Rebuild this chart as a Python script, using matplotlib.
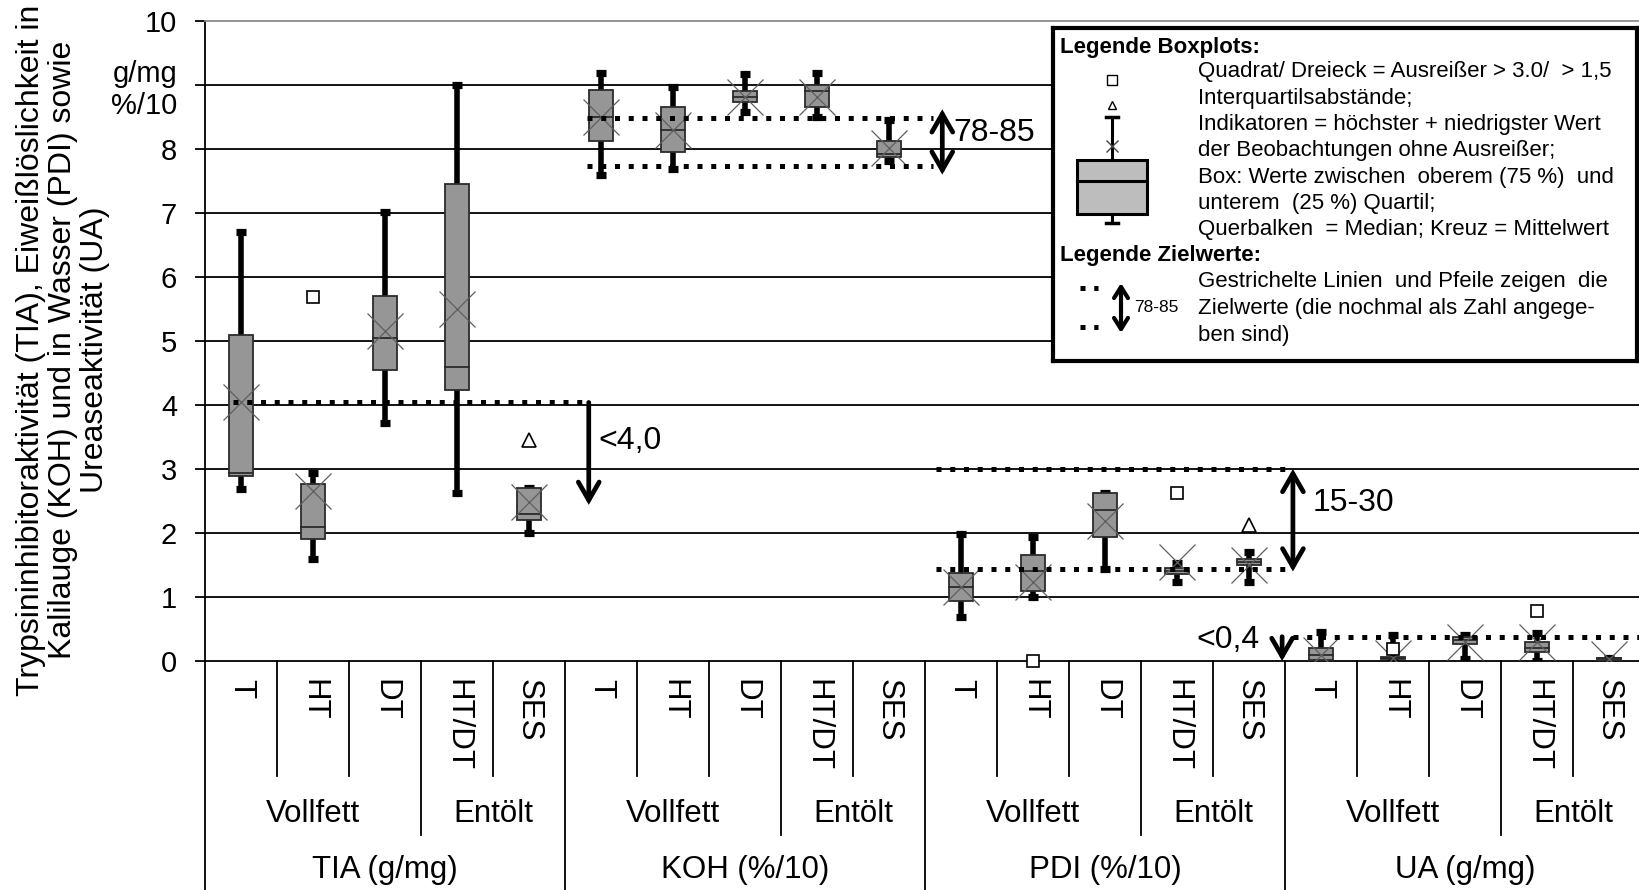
import numpy as np
import matplotlib
matplotlib.use("Agg")
import matplotlib.pyplot as plt
from matplotlib.patches import Rectangle, FancyArrowPatch
from matplotlib.lines import Line2D
from matplotlib import transforms

plt.rcParams['font.family'] = ['Liberation Sans', 'DejaVu Sans']

# Data
groups = ["TIA (g/mg)", "KOH (%/10)", "PDI (%/10)", "UA (g/mg)"]
subgroups = ["Vollfett", "Entölt"]
categories = ["T", "HT", "DT", "HT/DT", "SES"]
n_voll = 3

#           TIA                          KOH                           PDI                          UA
whis_lo = [2.68, 1.60, 3.72, 2.62, 2.00, 7.59, 7.68, 8.58, 8.50, 7.81, 0.68, 1.00, 1.43, 1.24, 1.24, 0.00, 0.02, 0.03, 0.00, 0.02]
q1      = [2.89, 1.90, 4.55, 4.23, 2.20, 8.13, 7.96, 8.73, 8.66, 7.88, 0.93, 1.10, 1.93, 1.36, 1.50, 0.01, 0.03, 0.27, 0.14, 0.02]
median  = [2.93, 2.09, 5.05, 4.60, 2.29, 8.50, 8.30, 8.81, 8.90, 7.92, 1.15, 1.40, 2.36, 1.40, 1.55, 0.09, 0.05, 0.33, 0.20, 0.04]
q3      = [5.10, 2.77, 5.70, 7.45, 2.71, 8.92, 8.66, 8.91, 9.00, 8.13, 1.37, 1.66, 2.62, 1.45, 1.60, 0.20, 0.07, 0.38, 0.29, 0.05]
whis_hi = [6.70, 2.93, 7.02, 9.00, 2.71, 9.18, 8.97, 9.17, 9.18, 8.45, 1.98, 1.93, 2.62, 1.53, 1.71, 0.45, 0.40, 0.40, 0.43, 0.05]
mean    = [4.05, 2.65, 5.15, 5.50, 2.49, 8.50, 8.30, 8.82, 8.82, 8.02, 1.16, 1.24, 2.19, 1.55, 1.50, 0.10, 0.05, 0.29, 0.29, 0.03]

# outliers: squares (> 3.0 IQR), triangles (> 1.5 IQR)
sq_idx = [1, 11, 13, 16, 18]
sq_val = [5.69, 0.00, 2.63, 0.18, 0.78]
tri_idx = [4, 14]
tri_val = [3.46, 2.12]

# target values (dotted lines) and arrows
target_y = [4.04, 8.49, 7.73, 3.00, 1.43, 0.38]
target_x0 = [0.39, 5.31, 5.31, 10.15, 10.15, 15.11]
target_x1 = [5.25, 10.11, 10.11, 15.03, 15.03, 19.95]
arrow_x = [5.33, 10.24, 15.11, 14.96]
arrow_from = [4.04, 8.62, 3.00, 0.38]
arrow_to = [2.44, 7.60, 1.40, 0.00]
arrow_both = [False, True, True, False]
target_labels = ["<4,0", "78-85", "15-30", "<0,4"]
label_x = [5.46, 10.39, 15.39, 14.65]
label_y = [3.44, 8.25, 2.47, 0.33]
label_ha = ["left", "left", "left", "right"]

ytick_vals = list(range(11))
ytick_labels = ["0", "1", "2", "3", "4", "5", "6", "7", "8", "g/mg\n%/10", "10"]

W, H = 1640, 890
fig = plt.figure(figsize=(W / 100, H / 100), dpi=100)
x_left, x_right, y_top, y_zero = 205, 1640, 21, 661
ax = fig.add_axes([x_left / W, (H - y_zero) / H, (x_right - x_left) / W, (y_zero - y_top) / H])
n_cat = len(groups) * len(categories)
ax.set_xlim(0, (x_right - x_left) / 72.0)
ax.set_ylim(0, 10)

ax.spines["right"].set_visible(False)
ax.spines["top"].set_color("#8c8c8c")
ax.spines["top"].set_linewidth(1.3)
ax.spines["left"].set_linewidth(1.3)
ax.spines["bottom"].set_linewidth(1.3)
ax.set_xticks([])
ax.set_yticks(ytick_vals)
ax.set_yticklabels(ytick_labels, linespacing=1.2)
ax.tick_params(axis="y", length=7, width=1.3, pad=13, labelsize=21)
for v in ytick_vals[1:-1]:
    ax.axhline(v, color="black", lw=1.3, zorder=1)

pos = np.arange(n_cat) + 0.5
half = 0.167
cap = 0.075
for i in range(n_cat):
    x = pos[i]
    ax.plot([x, x], [whis_lo[i], q1[i]], color="black", lw=4.0, solid_capstyle="butt", zorder=3)
    ax.plot([x, x], [q3[i], whis_hi[i]], color="black", lw=4.0, solid_capstyle="butt", zorder=3)
    ax.plot([x - cap, x + cap], [whis_hi[i], whis_hi[i]], color="black", lw=5.2, solid_capstyle="butt", zorder=3)
    ax.plot([x - cap, x + cap], [whis_lo[i], whis_lo[i]], color="black", lw=5.2, solid_capstyle="butt", zorder=3)
    ax.add_patch(Rectangle((x - half, q1[i]), 2 * half, q3[i] - q1[i], facecolor="#969696",
                           edgecolor="#2b2b2b", lw=1.3, zorder=4))
    ax.plot([x - half, x + half], [median[i], median[i]], color="#2b2b2b", lw=1.3, zorder=5)

ax.plot(pos, mean, linestyle="none", marker="x", markersize=26, mew=0.9, color="#5f5f5f", zorder=6)
ax.plot(pos[sq_idx], sq_val, linestyle="none", marker="s", markersize=9, mfc="white", mec="black",
        mew=1.2, zorder=7, clip_on=False)
ax.plot(pos[tri_idx], tri_val, linestyle="none", marker="^", markersize=10, mfc="white", mec="black",
        mew=1.2, zorder=7, clip_on=False)

for yv, a, b in zip(target_y, target_x0, target_x1):
    ax.plot([a, b], [yv, yv], color="black", lw=3.6, linestyle=(0, (1, 1.75)),
            dash_capstyle="butt", zorder=8, clip_on=False)

for xa, y0, y1, both in zip(arrow_x, arrow_from, arrow_to, arrow_both):
    style = "<->" if both else "->"
    arr = FancyArrowPatch((xa, y0), (xa, y1), arrowstyle=style + ",head_length=13,head_width=7.5",
                          mutation_scale=1, lw=3.4, color="black", shrinkA=0, shrinkB=0,
                          zorder=8, clip_on=False, joinstyle="miter")
    ax.add_patch(arr)
for t, tx, ty, ha in zip(target_labels, label_x, label_y, label_ha):
    ax.text(tx, ty, t, fontsize=23, ha=ha, va="center", zorder=9)

# category axis below the plot
tr = transforms.blended_transform_factory(ax.transData, fig.transFigure)
fy = lambda px: (H - px) / H
for i in range(n_cat):
    ax.text(pos[i], fy(679), categories[i % len(categories)], rotation=270, ha="center", va="top",
            fontsize=22.5, transform=tr, clip_on=False)

for i in range(n_cat + 1):
    xb = float(i)
    k = i % len(categories)
    if k == 0:
        bottom = H
    elif k == n_voll:
        bottom = 835
    else:
        bottom = 776
    fig.add_artist(Line2D([xb, xb], [fy(y_zero), fy(bottom)], color="black", lw=1.3, transform=tr))

for g, name in enumerate(groups):
    g0 = g * len(categories)
    ax.text(g0 + n_voll / 2.0, fy(814), subgroups[0], ha="center", va="center", fontsize=22.5,
            transform=tr, clip_on=False)
    ax.text(g0 + (n_voll + len(categories)) / 2.0, fy(814), subgroups[1], ha="center", va="center",
            fontsize=22.5, transform=tr, clip_on=False)
    ax.text(g0 + len(categories) / 2.0, fy(870), name, ha="center", va="center", fontsize=22.5,
            transform=tr, clip_on=False)

fig.text(63 / W, fy(350),
         "Trypsininhibitoraktivität (TIA), Eiweißlöslichkeit in\n"
         "Kalilauge (KOH) und in Wasser (PDI) sowie\n"
         "Ureaseaktivität (UA)",
         rotation=90, ha="center", va="center", multialignment="center", fontsize=23, linespacing=1.07)

# legend box
lx0, ly0, lx1, ly1 = 1053, 28, 1637, 361
lg = fig.add_axes([lx0 / W, (H - ly1) / H, (lx1 - lx0) / W, (ly1 - ly0) / H])
lg.set_xlim(0, lx1 - lx0)
lg.set_ylim(ly1 - ly0, 0)
lg.set_xticks([])
lg.set_yticks([])
for s in lg.spines.values():
    s.set_linewidth(3)
lg.set_zorder(10)
lg.patch.set_facecolor("white")

lfs = 16
lg.text(7, 19, "Legende Boxplots:", fontsize=lfs, fontweight="bold", va="center")
box_lines = ["Quadrat/ Dreieck = Ausreißer > 3.0/  > 1,5",
             "Interquartilsabstände;",
             "Indikatoren = höchster + niedrigster Wert",
             "der Beobachtungen ohne Ausreißer;",
             "Box: Werte zwischen  oberem (75 %)  und",
             "unterem  (25 %) Quartil;",
             "Querbalken  = Median; Kreuz = Mittelwert"]
for j, t in enumerate(box_lines):
    lg.text(145, 44 + j * 26.3, t, fontsize=lfs, va="center")
lg.text(7, 227, "Legende Zielwerte:", fontsize=lfs, fontweight="bold", va="center")
ziel_lines = ["Gestrichelte Linien  und Pfeile zeigen  die",
              "Zielwerte (die nochmal als Zahl angege-",
              "ben sind)"]
for j, t in enumerate(ziel_lines):
    lg.text(145, 254 + j * 26.5, t, fontsize=lfs, va="center")

# legend boxplot icon
cx = 59
lg.plot([cx, cx], [89, 132], color="black", lw=2.2)
lg.plot([cx, cx], [186, 195], color="black", lw=2.2)
lg.plot([cx - 6, cx + 6], [89, 89], color="black", lw=2.5)
lg.plot([cx - 6, cx + 6], [195, 195], color="black", lw=2.5)
lg.add_patch(Rectangle((cx - 35, 132), 70, 54, facecolor="#bdbdbd", edgecolor="black", lw=2.2))
lg.plot([cx - 35, cx + 35], [153, 153], color="black", lw=2.2)
lg.plot([cx], [118], marker="x", markersize=9, mew=1.0, color="#444444")
lg.plot([cx], [77], marker="^", markersize=6, mfc="white", mec="black", mew=1.0)
lg.plot([cx], [52], marker="s", markersize=6.5, mfc="white", mec="black", mew=1.0)

# legend target icon
for yy in [260, 299]:
    lg.plot([27, 45], [yy, yy], color="black", lw=3.6, linestyle=(0, (1, 1.75)), dash_capstyle="butt")
lg.add_patch(FancyArrowPatch((68, 255), (68, 305), arrowstyle="<->,head_length=8,head_width=5",
                             mutation_scale=1, lw=3, color="black", shrinkA=0, shrinkB=0))
lg.text(81, 279, "78-85", fontsize=12.5, va="center")

fig.savefig("out.png", dpi=100)
